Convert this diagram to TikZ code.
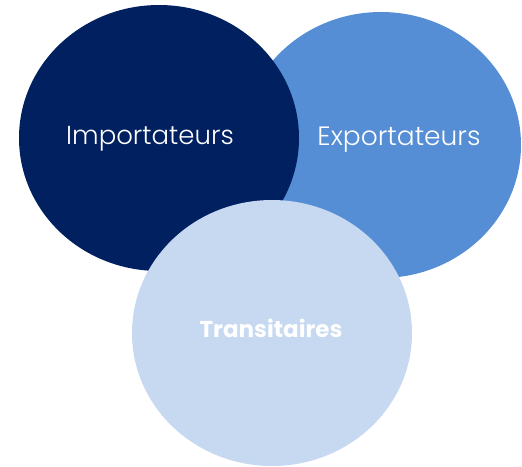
\documentclass[tikz,border=0pt]{standalone}
\usepackage{fontspec}
\setmainfont{Poppins}[UprightFont={* Light}, BoldFont={* Bold}]
\usetikzlibrary{shapes.geometric}
\definecolor{navy}{HTML}{002060}
\definecolor{midblue}{HTML}{558ED5}
\definecolor{lightblue}{HTML}{C6D9F1}
\begin{document}
\begin{tikzpicture}[x=1pt,y=-1pt,
  blob/.style={ellipse, minimum width=280pt, minimum height=266pt, inner sep=0pt, draw=none},
  lab/.style={text=white, anchor=base, inner sep=0pt, font=\fontsize{26}{30}\selectfont}]
\useasboundingbox (0,0) rectangle (522,466);
\node[blob, fill=midblue] (exp) at (381,145) {};
\node[blob, fill=navy] (imp) at (159,138) {};
\node[blob, fill=lightblue] (tra) at (272,333) {};
\node[lab] (timp) at (150,144) {Importateurs};
\node[lab, font=\fontsize{26.5}{30}\selectfont] (texp) at (399,145) {Exportateurs};
\node[lab, font=\fontsize{23}{28}\selectfont\bfseries] (ttra) at (271,337) {Transitaires};
\end{tikzpicture}
\end{document}
